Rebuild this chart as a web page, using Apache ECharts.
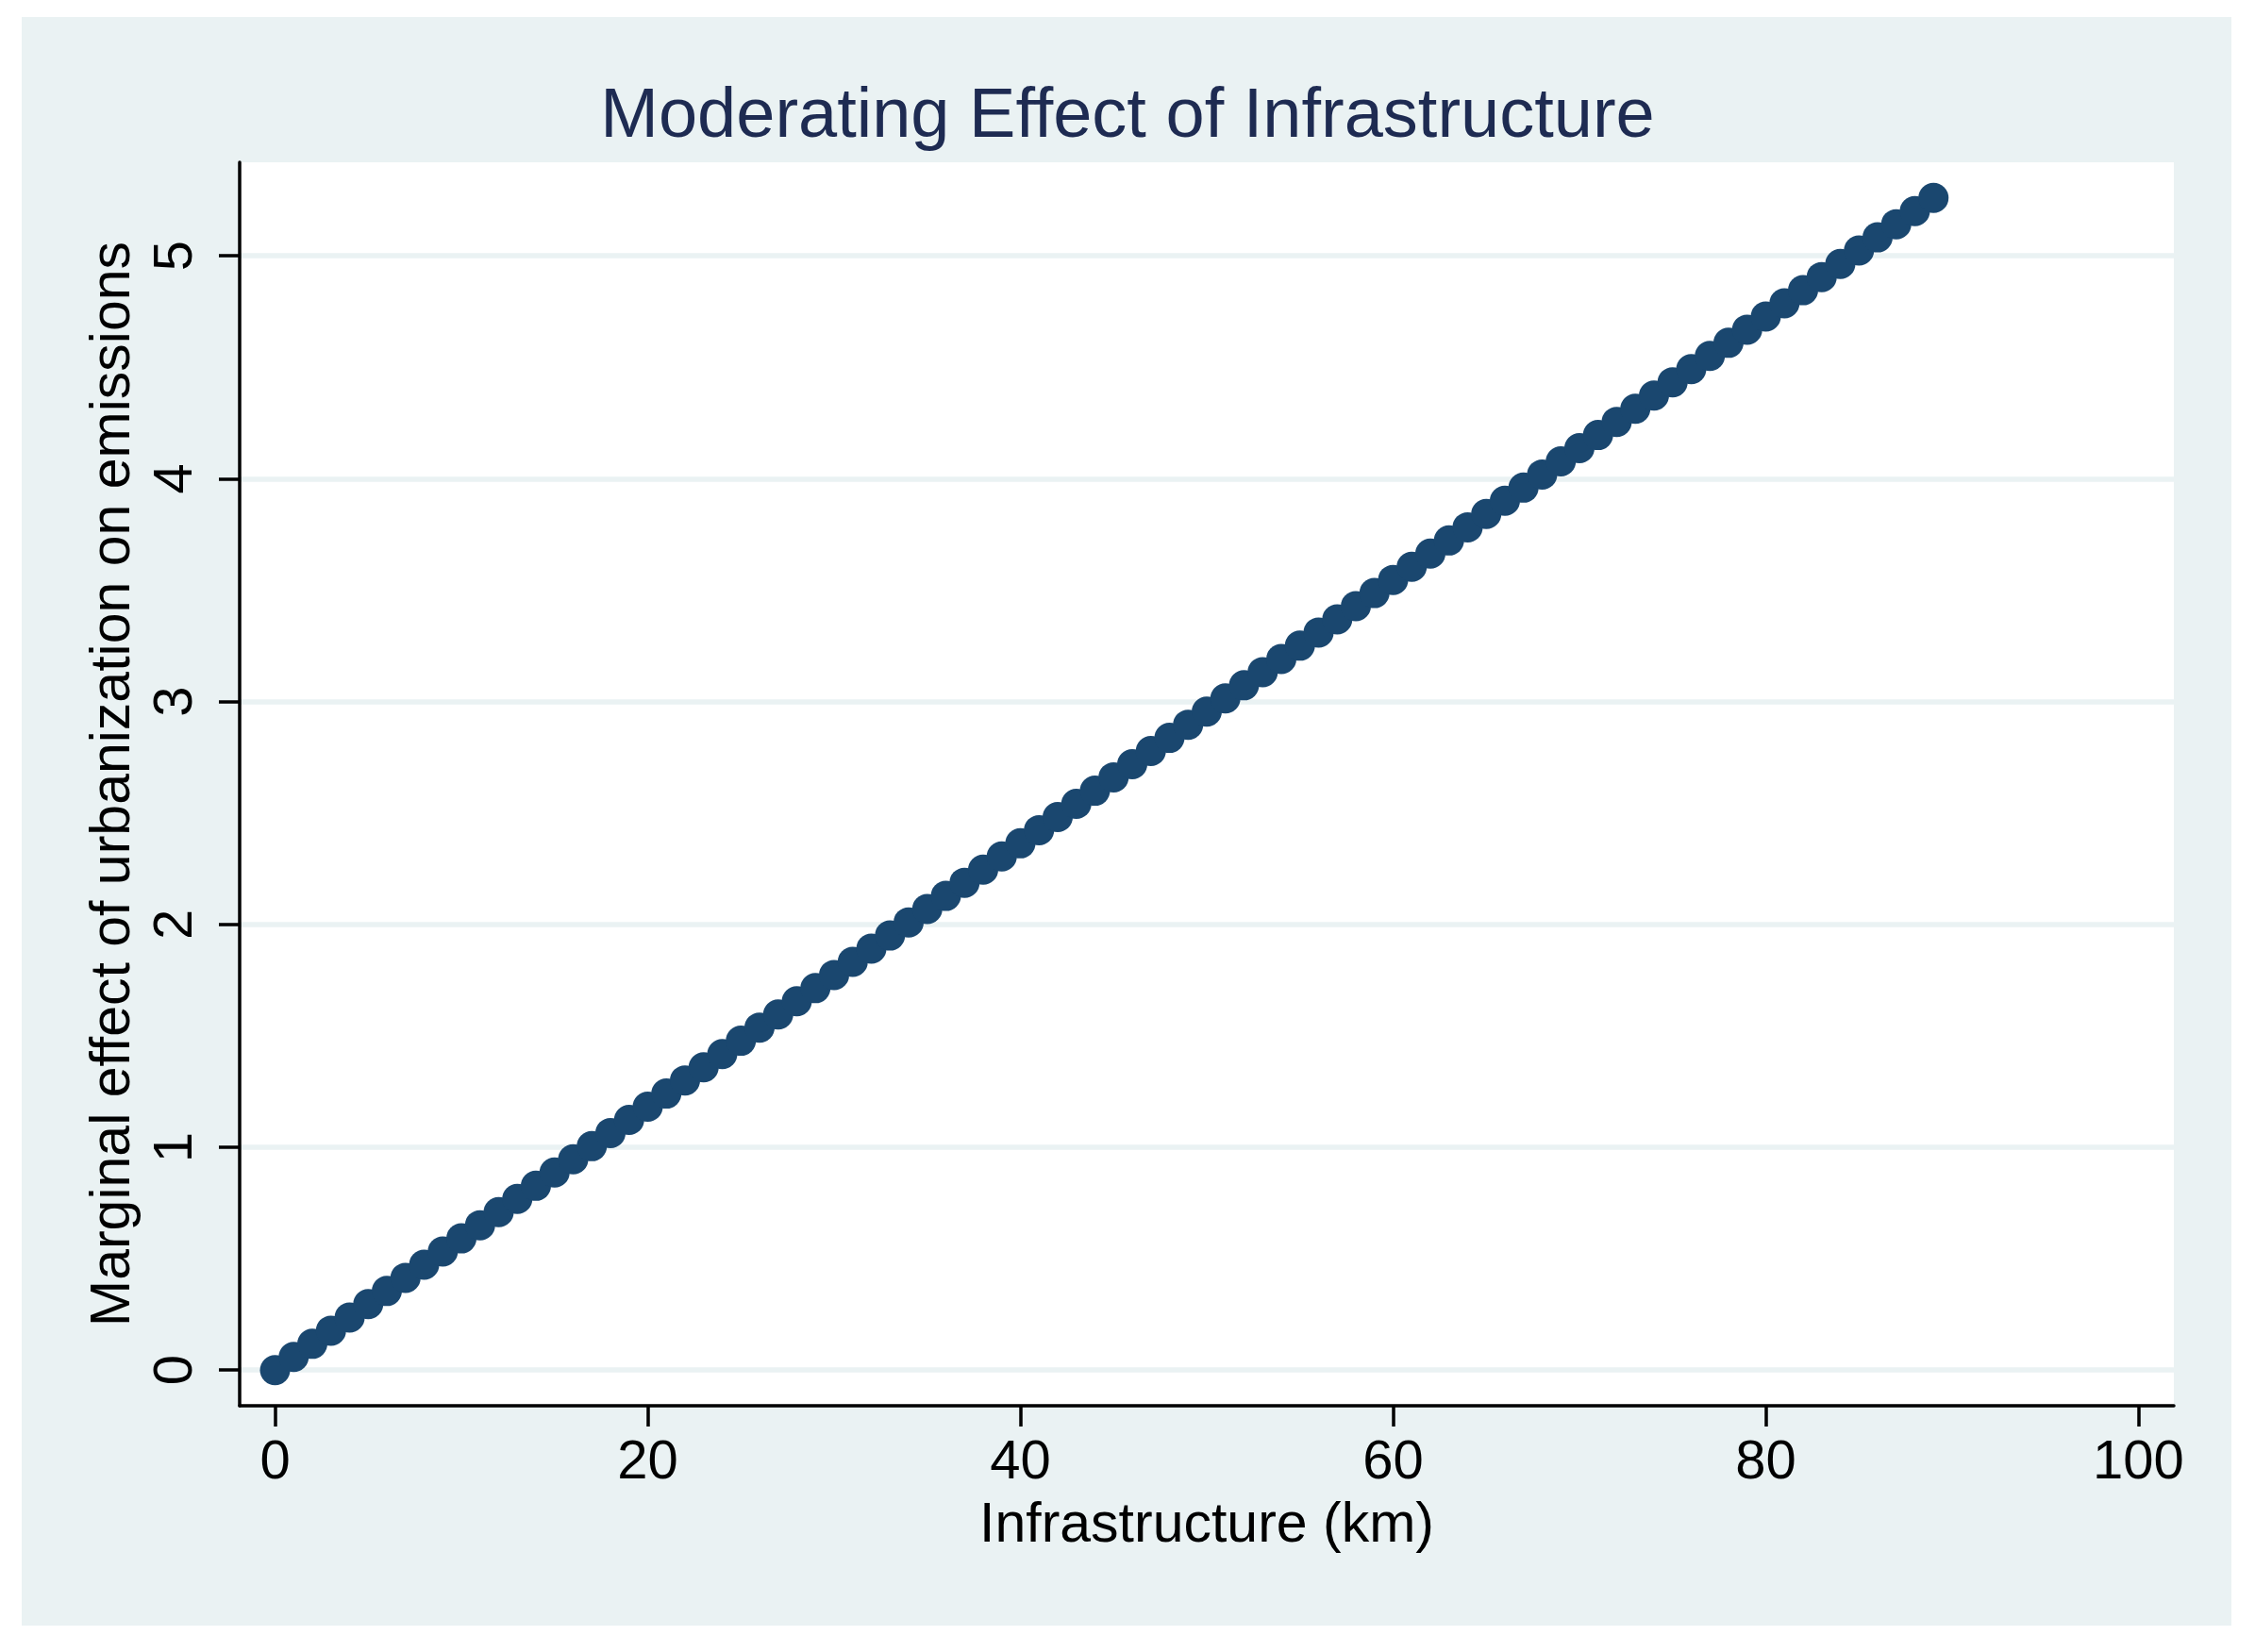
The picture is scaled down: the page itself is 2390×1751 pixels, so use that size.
<!DOCTYPE html>
<html>
<head>
<meta charset="utf-8">
<script src="https://cdn.jsdelivr.net/npm/echarts@6/dist/echarts.min.js"></script>
<style>
  html, body { margin: 0; padding: 0; background: #ffffff; }
  #chart { width: 2390px; height: 1751px; }
</style>
</head>
<body>
<div id="chart"></div>
<script>
// ---- data ----
const titleText = 'Moderating Effect of Infrastructure';
const xAxisName = 'Infrastructure (km)';
const yAxisName = 'Marginal effect of urbanization on emissions';

const infrastructure = [
  0, 1, 2, 3, 4, 5, 6, 7, 8, 9,
  10, 11, 12, 13, 14, 15, 16, 17, 18, 19,
  20, 21, 22, 23, 24, 25, 26, 27, 28, 29,
  30, 31, 32, 33, 34, 35, 36, 37, 38, 39,
  40, 41, 42, 43, 44, 45, 46, 47, 48, 49,
  50, 51, 52, 53, 54, 55, 56, 57, 58, 59,
  60, 61, 62, 63, 64, 65, 66, 67, 68, 69,
  70, 71, 72, 73, 74, 75, 76, 77, 78, 79,
  80, 81, 82, 83, 84, 85, 86, 87, 88, 89
];
const marginalEffect = [
  0.000, 0.059, 0.118, 0.177, 0.236, 0.296, 0.355, 0.414, 0.473, 0.532,
  0.591, 0.650, 0.709, 0.768, 0.827, 0.887, 0.946, 1.005, 1.064, 1.123,
  1.182, 1.241, 1.300, 1.359, 1.418, 1.478, 1.537, 1.596, 1.655, 1.714,
  1.773, 1.832, 1.891, 1.950, 2.009, 2.069, 2.128, 2.187, 2.246, 2.305,
  2.364, 2.423, 2.482, 2.541, 2.600, 2.660, 2.719, 2.778, 2.837, 2.896,
  2.955, 3.014, 3.073, 3.132, 3.191, 3.251, 3.310, 3.369, 3.428, 3.487,
  3.546, 3.605, 3.664, 3.723, 3.782, 3.842, 3.901, 3.960, 4.019, 4.078,
  4.137, 4.196, 4.255, 4.314, 4.373, 4.433, 4.492, 4.551, 4.610, 4.669,
  4.728, 4.787, 4.846, 4.905, 4.964, 5.024, 5.083, 5.142, 5.201, 5.260
];
const xTicks = [0, 20, 40, 60, 80, 100];
const yTicks = [0, 1, 2, 3, 4, 5];

// ---- chart ----
const FONT = '"Liberation Sans", Arial, Helvetica, sans-serif';
const chart = echarts.init(document.getElementById('chart'), null, { renderer: 'canvas' });

const points = infrastructure.map((x, i) => [x, marginalEffect[i]]);

chart.setOption({
  backgroundColor: '#ffffff',
  animation: false,
  graphic: [{
    type: 'rect',
    z: -100,
    silent: true,
    shape: { x: 23, y: 18, width: 2342, height: 1705 },
    style: { fill: '#eaf2f3' }
  }],
  title: {
    text: titleText,
    left: 'center',
    top: 88,
    padding: 0,
    textStyle: { fontFamily: FONT, fontSize: 74, fontWeight: 'normal', color: '#1e2b52' }
  },
  grid: {
    left: 254, top: 172, right: 86, bottom: 261,
    show: true, backgroundColor: '#ffffff', borderWidth: 0,
    containLabel: false
  },
  xAxis: {
    type: 'value',
    min: -1.9, max: 101.9,
    name: xAxisName,
    nameLocation: 'middle',
    nameGap: 98,
    nameTextStyle: { fontFamily: FONT, fontSize: 59, color: '#000' },
    axisLine: { show: true, onZero: false, lineStyle: { color: '#000', width: 3.5 } },
    axisTick: { show: true, length: 22, customValues: xTicks, lineStyle: { color: '#000', width: 3.5 } },
    axisLabel: { customValues: xTicks, margin: 32, fontFamily: FONT, fontSize: 58, color: '#000' },
    splitLine: { show: false }
  },
  yAxis: {
    type: 'value',
    min: -0.16, max: 5.42,
    name: yAxisName,
    nameLocation: 'middle',
    nameRotate: 90,
    nameGap: 104,
    nameTextStyle: { fontFamily: FONT, fontSize: 59, color: '#000' },
    axisLine: { show: true, onZero: false, lineStyle: { color: '#000', width: 3.5 } },
    axisTick: { show: true, length: 22, customValues: yTicks, lineStyle: { color: '#000', width: 3.5 } },
    axisLabel: { customValues: yTicks, rotate: 90, margin: 38, fontFamily: FONT, fontSize: 58, color: '#000' },
    splitLine: { show: true, lineStyle: { color: '#eaf2f3', width: 5.5 } }
  },
  series: [{
    type: 'scatter',
    data: points,
    symbol: 'circle',
    symbolSize: 32,
    itemStyle: { color: '#1a476f', opacity: 1 },
    z: 5
  }]
});
</script>
</body>
</html>
